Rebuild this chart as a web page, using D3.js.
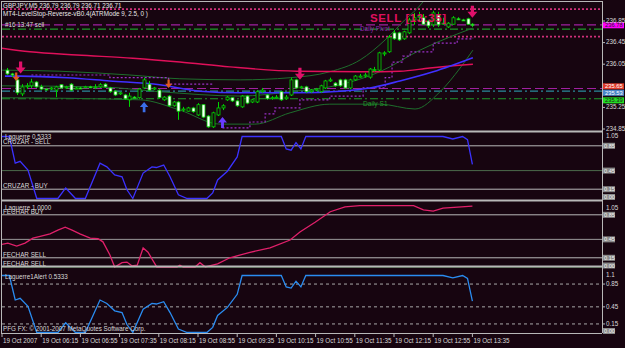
<!DOCTYPE html>
<html><head><meta charset="utf-8">
<script src="https://cdn.jsdelivr.net/npm/d3@7/dist/d3.min.js"></script>
<style>
body{margin:0;background:#170510}
svg{display:block}
text{font-family:"Liberation Sans",Arial,sans-serif}
</style>
</head><body>
<svg width="625" height="348"></svg>
<script>
// GBPJPY M5, 19 Oct 2007 -- candles (bar 1..96)
const opens = [235.94,235.87,235.76,235.50,235.63,235.65,235.72,235.63,235.59,235.59,
235.57,235.67,235.61,235.68,235.59,235.61,235.61,235.63,235.63,235.63,
235.68,235.61,235.55,235.50,235.48,235.39,235.44,235.43,235.61,235.68,
235.59,235.57,235.39,235.46,235.28,235.35,235.20,235.18,235.24,235.11,
235.30,235.09,234.89,235.11,235.24,235.39,235.43,235.37,235.26,235.46,
235.35,235.35,235.54,235.48,235.41,235.43,235.54,235.41,235.48,235.76,
235.61,235.63,235.54,235.57,235.54,235.61,235.74,235.70,235.76,235.76,
235.61,235.76,235.81,235.83,235.81,235.94,235.94,236.24,236.28,236.63,
236.63,236.52,236.63,236.87,236.92,236.91,236.85,236.78,236.96,236.79,
236.74,236.79,236.89,236.87,236.89,236.79];
const highs = [235.98,235.89,235.80,235.68,235.70,235.78,235.74,235.67,235.61,235.63,
235.65,235.68,235.65,235.70,235.63,235.63,235.65,235.65,235.68,235.70,
235.70,235.63,235.57,235.54,235.50,235.52,235.46,235.61,235.80,235.74,
235.63,235.59,235.46,235.48,235.37,235.37,235.26,235.26,235.26,235.33,
235.31,235.11,235.17,235.35,235.31,235.46,235.44,235.39,235.48,235.48,
235.41,235.57,235.61,235.50,235.46,235.48,235.55,235.48,235.80,235.78,
235.65,235.65,235.59,235.61,235.67,235.76,235.80,235.72,235.78,235.78,
235.78,235.85,235.87,235.89,235.98,236.00,236.28,236.29,236.59,236.68,
236.65,236.67,236.91,237.00,237.02,236.98,236.87,237.04,237.02,236.91,
236.83,236.94,236.92,236.89,236.91,236.81];
const lows = [235.85,235.81,235.48,235.46,235.59,235.61,235.61,235.57,235.57,235.57,
235.44,235.59,235.59,235.55,235.59,235.59,235.61,235.61,235.59,235.61,
235.61,235.52,235.46,235.48,235.39,235.26,235.43,235.41,235.59,235.55,
235.57,235.41,235.37,235.26,235.26,235.02,235.17,235.17,235.15,235.09,
235.05,234.87,234.87,235.09,235.20,235.37,235.35,235.26,235.24,235.31,
235.33,235.33,235.52,235.39,235.39,235.41,235.37,235.39,235.46,235.59,
235.59,235.52,235.52,235.55,235.52,235.59,235.72,235.63,235.63,235.59,
235.59,235.74,235.80,235.80,235.78,235.91,235.92,236.20,236.26,236.50,
236.48,236.50,236.61,236.78,236.83,236.78,236.72,236.74,236.74,236.78,
236.72,236.78,236.87,236.85,236.78,236.74];
const closes = [235.87,235.85,235.52,235.63,235.65,235.72,235.63,235.59,235.58,235.61,
235.63,235.61,235.63,235.57,235.61,235.60,235.63,235.62,235.63,235.67,
235.63,235.54,235.48,235.52,235.41,235.46,235.43,235.59,235.76,235.57,
235.61,235.43,235.44,235.28,235.35,235.18,235.22,235.24,235.17,235.30,
235.07,234.89,235.15,235.24,235.28,235.44,235.37,235.28,235.46,235.33,
235.39,235.54,235.57,235.41,235.43,235.44,235.39,235.44,235.76,235.61,
235.63,235.54,235.57,235.59,235.65,235.74,235.76,235.65,235.65,235.61,
235.76,235.83,235.83,235.85,235.96,235.95,236.26,236.26,236.55,236.52,
236.50,236.65,236.87,236.91,236.94,236.79,236.76,237.00,236.78,236.81,
236.81,236.91,236.88,236.86,236.79,236.78];

// indicator lines, [bar, value]
const maRed = [[-0.4,236.35],[5.7,236.28],[15.3,236.22],[26.7,236.16],[36.3,236.09],[46.5,236.00],[60.2,235.92],[73.7,235.91],[81.2,235.92],[87.3,235.98],[96.1,236.05]];
const maBlue = [[0.6,235.83],[3.7,235.83],[13.3,235.80],[22,235.74],[32.2,235.67],[40.4,235.55],[48.6,235.52],[60.2,235.52],[69,235.55],[75.1,235.61],[81.2,235.74],[88,235.91],[96.1,236.17]];
const bandUpper = [[-0.4,235.94],[11.8,235.92],[26.1,235.85],[36.3,235.78],[48.6,235.76],[58.8,235.80],[66.9,235.91],[73.1,236.13],[78.2,236.50],[82.2,236.87],[85.7,237.18],[87.3,237.39]];
const bandMid = [[-0.4,235.65],[20,235.63],[32.2,235.54],[48.6,235.46],[58.8,235.54],[69,235.67],[77.1,235.91],[85.3,236.31],[93.5,236.63],[96.1,236.72]];
const bandLower = [[-0.4,235.43],[28.2,235.39],[36.3,235.20],[44.5,234.94],[51.6,234.94],[58.8,235.15],[66.9,235.31],[77.1,235.31],[84.3,235.22],[89.4,235.54],[93.5,235.98],[96.1,236.31]];
const stopSell = [[6,235.85],[22,235.80],[34,235.68],[43,235.68]];
const stopBuy = [[45,234.87],[50.6,234.98],[53.7,235.13],[55.7,235.24],[60.8,235.39],[66.9,235.46],[73.7,235.61],[78.2,235.80],[79.6,236.09],[81.8,236.20],[83.3,236.28],[88,236.44],[92.9,236.52],[96.1,236.54]];

// horizontal levels
const levelPrices = [237.07, 236.78, 236.70, 236.56, 235.60, 235.55, 235.41];
const levelStyles = ["dotPink","dashMag","dashGreen","dotPink","dashMag","dashTeal","dashGreen"];

// signals
const sigBars = [3.8, 2.9, 34, 29, 45, 60.8, 96];
const sigPrices = [235.88, 235.74, 235.61, 235.35, 235.07, 235.76, 236.91];
const sigKinds = ["sellBig","sellSmall","sellSmall","buyBlue","buyViolet","sellBig","sellBig"];

// sub windows
const lagFast = [[0,1],[1.5,1],[2.7,0.57],[3.7,0.6],[5.3,0.46],[7.1,0],[11.4,0],[13,0.17],[15,0],[17,0],[20,0.57],[21.4,0.51],[23,0.38],[24.5,0.35],[25.5,0.14],[26.7,0],[28.8,0.41],[30.6,0.51],[31.5,0.5],[33,0.54],[34.3,0.35],[36,0.06],[37.8,0],[41.8,0],[43,0.09],[44,0.3],[46,0.44],[48,0.67],[49,1],[57,1],[58,0.8],[59,0.78],[60,0.9],[61,0.8],[62,1],[90,1],[92,0.96],[94,1],[95,0.95],[96,0.55]];
const lagSlow = [[0,0.37],[1.2,0.39],[3,0.34],[4.7,0.39],[6.3,0.47],[7.8,0.5],[9.8,0.54],[11.4,0.6],[12.9,0.65],[14.3,0.6],[15.9,0.54],[18,0.47],[19.6,0.46],[20.6,0.41],[22,0.2],[23,0],[24.5,0.07],[25.5,0.08],[26.5,0.02],[27.6,0.03],[28.8,0.31],[29.8,0.24],[31.6,0],[35.7,0],[36.3,0.03],[37,0],[39.4,0],[40.4,0.07],[41.5,0],[44,0.05],[46.5,0.15],[50.6,0.24],[54.7,0.31],[58.8,0.44],[60.8,0.57],[63.9,0.73],[67,0.9],[70,0.98],[73,1],[84,1],[86,0.93],[88,0.91],[90,0.96],[96,0.99]];

const priceTicks = [236.85, 236.45, 236.05, 235.25, 234.85];
const priceBoxes = [236.78, 235.65, 235.53, 235.39];
const boxColors = ["#ff00ff", "#e03a2a", "#4a86c8", "#22dd22"];
const timeLabels = ["19 Oct 2007","19 Oct 06:15","19 Oct 06:55","19 Oct 07:35","19 Oct 08:15","19 Oct 08:55","19 Oct 09:35","19 Oct 10:15","19 Oct 10:55","19 Oct 11:35","19 Oct 12:15","19 Oct 12:55","19 Oct 13:35"];

const svg = d3.select("svg");
const W = 625, H = 348, right = 602;

const x = d3.scaleLinear().domain([0, 96]).range([2, 472.4]);
const yP = d3.scaleLinear().domain([234.85, 236.85]).range([129, 21]);
const y2 = d3.scaleLinear().domain([0, 1]).range([198.5, 136.5]);
const y3 = d3.scaleLinear().domain([0, 1]).range([267, 205.6]);
const y4 = d3.scaleLinear().domain([0, 1]).range([332.5, 275.5]);

svg.append("rect").attr("width", W).attr("height", H).attr("fill", "#170510");

const defs = svg.append("defs");
defs.append("clipPath").attr("id", "cMain").append("rect").attr("x", 2).attr("y", 2).attr("width", right - 2).attr("height", 128);

const main = svg.append("g").attr("clip-path", "url(#cMain)");

// levels
const lvlStyle = {
  dotPink: {c: "#d0307a", d: "2,2", w: 1.6},
  dashMag: {c: "#a020a0", d: "9,4", w: 1.2},
  dashGreen: {c: "#1f9a2a", d: "8,3,2,3", w: 1.2},
  dashTeal: {c: "#2a8a9a", d: "8,3,2,3", w: 1.2}
};
main.append("g").selectAll("line").data(levelPrices).enter().append("line")
  .attr("x1", 2).attr("x2", right).attr("y1", d => yP(d)).attr("y2", d => yP(d))
  .attr("stroke", (d, i) => lvlStyle[levelStyles[i]].c)
  .attr("stroke-dasharray", (d, i) => lvlStyle[levelStyles[i]].d)
  .attr("stroke-width", (d, i) => lvlStyle[levelStyles[i]].w);

const line = d3.line().x(d => x(d[0])).y(d => yP(d[1]));
const drawLine = (data, color, w, dash, curve) => main.append("path").datum(data)
  .attr("d", line.curve(curve || d3.curveMonotoneX))
  .attr("fill", "none").attr("stroke", color).attr("stroke-width", w)
  .attr("stroke-dasharray", dash || null);

drawLine(bandUpper, "#1e6e2c", 1);
drawLine(bandMid, "#1e6e2c", 1);
drawLine(bandLower, "#1e6e2c", 1);
drawLine(stopSell, "#9b30c8", 1.2, "2,2", d3.curveStepAfter);
drawLine(stopBuy, "#9b30c8", 1.2, "2,2", d3.curveStepAfter);
drawLine(maRed, "#e0105a", 1.4);
drawLine(maBlue, "#4030ff", 1.6);

// candles
const candles = main.append("g").selectAll("g").data(opens.map((o, k) => ({i: k + 1, o, h: highs[k], l: lows[k], c: closes[k]})))
  .enter().append("g");
candles.append("line")
  .attr("x1", d => Math.round(x(d.i)) + 0.5).attr("x2", d => Math.round(x(d.i)) + 0.5)
  .attr("y1", d => yP(d.h)).attr("y2", d => yP(d.l))
  .attr("stroke", "#00d400").attr("stroke-width", 1);
candles.append("rect")
  .attr("x", d => Math.round(x(d.i)) - 1)
  .attr("y", d => yP(Math.max(d.o, d.c)))
  .attr("width", 3)
  .attr("height", d => Math.max(1, Math.abs(yP(d.o) - yP(d.c))))
  .attr("fill", d => d.c < d.o ? "#ffffff" : "#170510")
  .attr("stroke", "#00d400").attr("stroke-width", 0.8);

// signal arrows
const arrowPath = (cx, tip, dir, s) => {
  const h = 12 * s, hw = 5 * s, sw = 1.6 * s, hh = 6 * s;
  const b = tip - dir * h, m = tip - dir * hh;
  return `M${cx - sw},${b}L${cx + sw},${b}L${cx + sw},${m}L${cx + hw},${m}L${cx},${tip}L${cx - hw},${m}L${cx - sw},${m}Z`;
};
const sigStyle = {
  sellBig: {c: "#e0106a", dir: 1, s: 1},
  sellSmall: {c: "#e05a20", dir: 1, s: 0.7},
  buyBlue: {c: "#3a6ee8", dir: -1, s: 0.85},
  buyViolet: {c: "#6a3cff", dir: -1, s: 0.9}
};
main.append("g").selectAll("path").data(sigBars).enter().append("path")
  .attr("d", (d, i) => {
    const st = sigStyle[sigKinds[i]];
    return arrowPath(x(d), yP(sigPrices[i]), st.dir, st.s);
  })
  .attr("fill", (d, i) => sigStyle[sigKinds[i]].c);

// texts main
const txt = (tx, ty, s, col, size, weight) => svg.append("text").attr("x", tx).attr("y", ty)
  .text(s).attr("fill", col).attr("font-size", size || 6.3).attr("font-weight", weight || "normal");
txt(3, 8, "GBPJPY,M5  236.79 236.79 236.71 236.71", "#e8e8e8");
txt(3, 16, "MT4-LevelStop-Reverse-vB0.4(ATRMode 9, 2.5, 0 )", "#e8e8e8");
txt(5, 27, "#16 13:47 sell", "#d8d8d8");
txt(370, 22, "SELL [13:35]", "#e01060", 11.5, "bold").attr("letter-spacing", 0.6);
txt(360, 31, "Daily Pivot", "#8a2ab0");
txt(363, 106, "Daily S1", "#1f9a2a", 6.6);

// sub windows
const panels = [
  {y: y2, data: lagFast, col: "#3b32ff", levels: [0.85, 0.45, 0.15], lvlCol: ["#b8b8b8", "#4c6a4c", "#b8b8b8"], dash: null},
  {y: y3, data: lagSlow, col: "#e0206a", levels: [0.85, 0.45, 0.15, 0], lvlCol: ["#b8b8b8", "#9a9a9a", "#b8b8b8", "#2a7a2a"], dash: null},
  {y: y4, data: lagFast, col: "#2a8cf0", levels: [0.85, 0.45, 0.15], lvlCol: ["#a8a8a8", "#a8a8a8", "#a8a8a8"], dash: "3,3"}
];
panels.forEach(p => {
  svg.append("g").selectAll("line").data(p.levels).enter().append("line")
    .attr("x1", 2).attr("x2", right).attr("y1", d => p.y(d)).attr("y2", d => p.y(d))
    .attr("stroke", (d, i) => p.lvlCol[i]).attr("stroke-width", 1)
    .attr("stroke-dasharray", p.dash);
  svg.append("path").datum(p.data)
    .attr("d", d3.line().x(d => x(d[0])).y(d => p.y(d[1])))
    .attr("fill", "none").attr("stroke", p.col).attr("stroke-width", 1.3);
});

txt(5, 139, "Laguerre 0.5333", "#d8d8d8");
txt(3, 144, "CRUZAR - SELL", "#d8d8d8");
txt(3, 188, "CRUZAR - BUY", "#d8d8d8");
txt(5, 210, "Laguerre 1.0000", "#d8d8d8");
txt(3, 214, "FECHAR BUY", "#d8d8d8");
txt(3, 257, "FECHAR SELL", "#d8d8d8");
txt(3, 266, "FECHAR SELL", "#d8d8d8");
txt(5, 279, "Laguerre1Alert 0.5333", "#d8d8d8");
txt(3, 331, "PFG FX: \u00a9 2001-2007 MetaQuotes Software Corp.", "#d8d8d8");

// frame and separators
const frame = svg.append("g").attr("stroke", "#b8b8b8").attr("fill", "none");
frame.append("line").attr("x1", 1).attr("x2", right).attr("y1", 1.5).attr("y2", 1.5);
frame.append("line").attr("x1", 1.5).attr("x2", 1.5).attr("y1", 1).attr("y2", 333);
frame.append("line").attr("x1", right + 0.5).attr("x2", right + 0.5).attr("y1", 1).attr("y2", 333);
[131.5, 200.5, 266.5].forEach(sy => {
  frame.append("line").attr("x1", 1).attr("x2", right).attr("y1", sy).attr("y2", sy).attr("stroke-width", 2);
});
frame.append("line").attr("x1", 1).attr("x2", right).attr("y1", 333.5).attr("y2", 333.5);

// price axis
const ax = svg.append("g");
priceTicks.forEach(p => {
  ax.append("line").attr("x1", right).attr("x2", right + 3).attr("y1", yP(p)).attr("y2", yP(p)).attr("stroke", "#b8b8b8");
  txt(right + 4, yP(p) + 1.5, p.toFixed(2), "#d8d8d8");
});
priceBoxes.forEach((p, i) => {
  const by = yP(p);
  ax.append("rect").attr("x", right + 1).attr("y", by - 2.5).attr("width", 21).attr("height", 6).attr("fill", boxColors[i]);
  txt(right + 3, by + 2.6, p.toFixed(2), i === 0 || i === 3 ? "#202020" : "#ffffff", 5.8);
});

// indicator axes: top label sits just under the window edge
const subAxes = [
  {y: y2, top: 136, topLabel: "1.05", plain: [], boxed: [0.85, 0.45, 0.15, 0]},
  {y: y3, top: 207.5, topLabel: "1.05", plain: [], boxed: [0.85, 0.45, 0.15, 0]},
  {y: y4, top: 275, topLabel: "1.1", plain: [0.85, 0.45, 0.15], boxed: [0]}
];
subAxes.forEach(a => {
  txt(right + 4, a.top + 2.3, a.topLabel, "#d8d8d8");
  a.plain.forEach(v => {
    ax.append("line").attr("x1", right).attr("x2", right + 3).attr("y1", a.y(v)).attr("y2", a.y(v)).attr("stroke", "#b8b8b8");
    txt(right + 4, a.y(v) + 2.3, v.toFixed(2), "#d8d8d8");
  });
  a.boxed.forEach(v => {
    const by = v === 0 ? a.y(v) - 1.5 : a.y(v);
    ax.append("rect").attr("x", right + 1).attr("y", by - 3).attr("width", 12).attr("height", 6).attr("fill", "#8a8a8a");
    txt(right + 2, by + 2.1, v.toFixed(2), "#f4f4f4", 5.6);
  });
});

// time axis
timeLabels.forEach((t, k) => {
  const tx = x(k * 8);
  ax.append("line").attr("x1", tx).attr("x2", tx).attr("y1", 333).attr("y2", 337).attr("stroke", "#b8b8b8");
  txt(tx + 1, 343, t, "#d8d8d8");
});
</script>
</body></html>
